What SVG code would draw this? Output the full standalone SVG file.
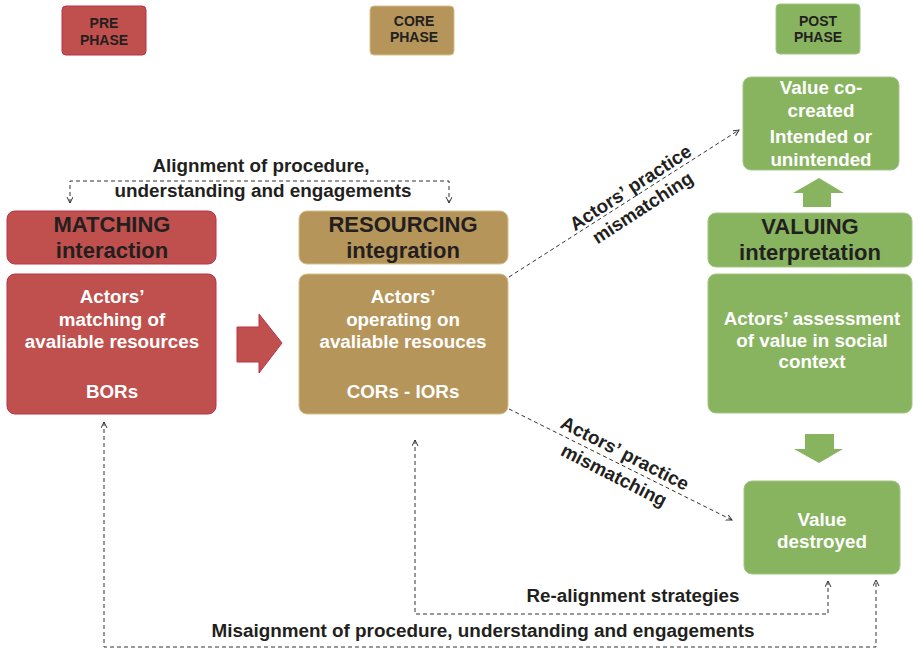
<svg xmlns="http://www.w3.org/2000/svg" width="913" height="651" viewBox="0 0 913 651">
  <style>
    text { font-family: "Liberation Sans", Arial, Helvetica, sans-serif; font-weight: bold; text-anchor: middle; }
    .red { fill: #c0504d; stroke: #b8334a; stroke-width: 1; }
    .tan { fill: #b5955a; stroke: #d6bf8c; stroke-width: 1; }
    .green { fill: #88b35f; stroke: #a3c686; stroke-width: 1; }
    .phase { font-size: 14px; fill: #231f20; }
    .head { font-size: 22px; fill: #231f20; }
    .body { font-size: 18.8px; fill: #ffffff; }
    .label { font-size: 18.8px; fill: #231f20; }
    .dash { fill: none; stroke: #333333; stroke-width: 1; stroke-dasharray: 4 3; }
  </style>
  <defs>
    <marker id="open" markerUnits="userSpaceOnUse" markerWidth="8" markerHeight="8" refX="6" refY="3" orient="auto-start-reverse">
      <path d="M0,0 L6,3 L0,6" fill="none" stroke="#333333" stroke-width="1"/>
    </marker>
  </defs>

  <rect width="913" height="651" fill="#ffffff"/>

  <!-- phase tags -->
  <g id="pre-phase">
    <rect class="red" x="62" y="6" width="84" height="49" rx="4"/>
    <text class="phase" x="104" y="28">PRE</text>
    <text class="phase" x="104" y="45">PHASE</text>
  </g>
  <g id="core-phase">
    <rect class="tan" x="370" y="6" width="84" height="49" rx="4"/>
    <text class="phase" x="414" y="26">CORE</text>
    <text class="phase" x="414" y="42">PHASE</text>
  </g>
  <g id="post-phase">
    <rect class="green" x="776" y="4" width="84" height="50" rx="4"/>
    <text class="phase" x="818" y="26">POST</text>
    <text class="phase" x="818" y="42">PHASE</text>
  </g>

  <!-- pre phase: matching -->
  <g id="matching-head">
    <rect class="red" x="7" y="211" width="209" height="53" rx="8"/>
    <text class="head" x="112" y="232">MATCHING</text>
    <text class="head" x="112" y="258">interaction</text>
  </g>
  <g id="matching-body">
    <rect class="red" x="7" y="274" width="209" height="140" rx="8"/>
    <text class="body" x="112" y="303">Actors’</text>
    <text class="body" x="112" y="326">matching of</text>
    <text class="body" x="112" y="348">avaliable resources</text>
    <text class="body" x="112" y="398">BORs</text>
  </g>

  <!-- flow arrow from matching to resourcing -->
  <g id="flow-arrow">
    <path class="red" d="M237,327 H259 V314 L282,343 L259,373 V362 H237 Z"/>
  </g>

  <!-- core phase: resourcing -->
  <g id="resourcing-head">
    <rect class="tan" x="299" y="211" width="209" height="53" rx="8"/>
    <text class="head" x="403" y="232">RESOURCING</text>
    <text class="head" x="403" y="258">integration</text>
  </g>
  <g id="resourcing-body">
    <rect class="tan" x="299" y="274" width="209" height="140" rx="8"/>
    <text class="body" x="403" y="303">Actors’</text>
    <text class="body" x="403" y="326">operating on</text>
    <text class="body" x="403" y="348">avaliable resouces</text>
    <text class="body" x="403" y="398">CORs - IORs</text>
  </g>

  <!-- post phase: valuing -->
  <g id="value-cocreated">
    <rect class="green" x="743" y="77" width="156" height="93" rx="8"/>
    <text class="body" x="821" y="94">Value co-</text>
    <text class="body" x="821" y="117">created</text>
    <text class="body" x="821" y="143">Intended or</text>
    <text class="body" x="821" y="166">unintended</text>
  </g>
  <g id="up-arrow">
    <path fill="#88b35f" d="M803,207 V193 H793 L819,178 L844,193 H831 V207 Z"/>
  </g>
  <g id="valuing-head">
    <rect class="green" x="708" y="213" width="204" height="54" rx="8"/>
    <text class="head" x="810" y="234">VALUING</text>
    <text class="head" x="810" y="260">interpretation</text>
  </g>
  <g id="valuing-body">
    <rect class="green" x="708" y="274" width="204" height="139" rx="8"/>
    <text class="body" x="812" y="325">Actors’ assessment</text>
    <text class="body" x="812" y="347">of value in social</text>
    <text class="body" x="812" y="368">context</text>
  </g>
  <g id="down-arrow">
    <path fill="#88b35f" d="M805,434 H834 V449 H843 L819,463 L794,449 H805 Z"/>
  </g>
  <g id="value-destroyed">
    <rect class="green" x="744" y="481" width="156" height="93" rx="8"/>
    <text class="body" x="822" y="526">Value</text>
    <text class="body" x="822" y="548">destroyed</text>
  </g>

  <!-- dashed connectors -->
  <g id="connectors">
    <path class="dash" d="M70,203 V181 H449 V203" marker-start="url(#open)" marker-end="url(#open)"/>
    <path class="dash" d="M509,277 L739,130" marker-end="url(#open)"/>
    <path class="dash" d="M509,409 L732,520" marker-end="url(#open)"/>
    <path class="dash" d="M415,440 V614 H828 V581" marker-start="url(#open)" marker-end="url(#open)"/>
    <path class="dash" d="M104,422 V647 H876 V580" marker-start="url(#open)" marker-end="url(#open)"/>
  </g>

  <!-- connector labels -->
  <g id="connector-labels">
    <text class="label" x="261" y="172" textLength="217" lengthAdjust="spacingAndGlyphs">Alignment of procedure,</text>
    <text class="label" x="263" y="197" textLength="297" lengthAdjust="spacingAndGlyphs">understanding and engagements</text>
    <text class="label" transform="translate(634,193) rotate(-33)">Actors’ practice</text>
    <text class="label" transform="translate(646,213) rotate(-33)">mismatching</text>
    <text class="label" transform="translate(622,459) rotate(27)">Actors’ practice</text>
    <text class="label" transform="translate(611,481) rotate(27)">mismatching</text>
    <text class="label" x="633" y="602" textLength="213" lengthAdjust="spacingAndGlyphs">Re-alignment strategies</text>
    <text class="label" x="483" y="637" textLength="543" lengthAdjust="spacingAndGlyphs">Misaignment of procedure, understanding and engagements</text>
  </g>
</svg>
